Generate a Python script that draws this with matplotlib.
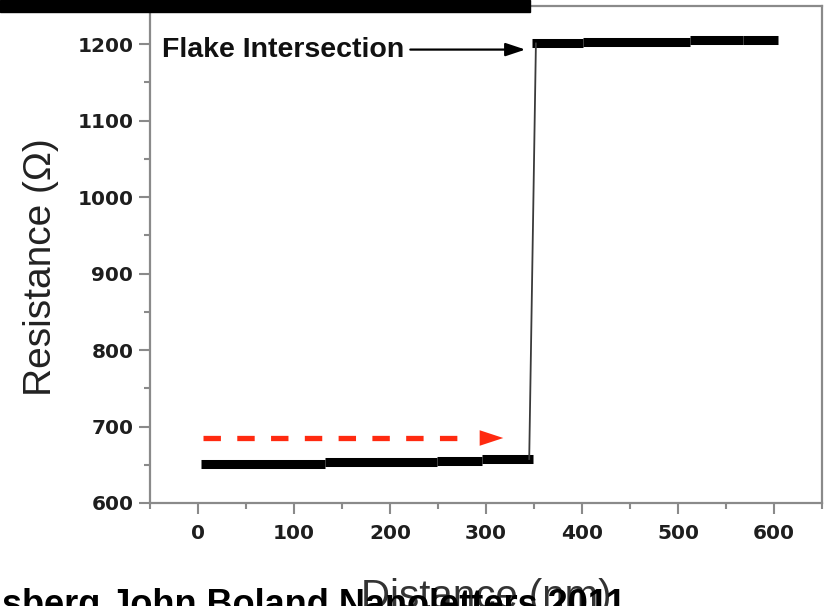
import matplotlib
matplotlib.use("Agg")
import matplotlib.pyplot as plt
from matplotlib.patches import Rectangle
from matplotlib.ticker import MultipleLocator

plt.rcParams['font.family'] = ['Liberation Sans', 'DejaVu Sans']

# Resistance profile along the line scan (step segments)
low_edges = [3, 132, 249, 296, 349]
low_values = [651.6, 653.8, 655.4, 657.5]
high_edges = [348, 401, 512, 568, 604]
high_values = [1201.0, 1202.6, 1205.0, 1206.0]
jump_x = [345, 352]
jump_y = [657.5, 1201.0]

# Scan direction arrow
scan_x = [5, 281]
scan_head_x = 308
scan_y = 685

# Annotation
note_text = "Flake Intersection"
note_xy = (-37, 1193)
note_target = (341, 1193)

x_ticks = [0, 100, 200, 300, 400, 500, 600]
y_ticks = [600, 700, 800, 900, 1000, 1100, 1200]

fig = plt.figure(figsize=(8.27, 6.06), dpi=100)
ax = fig.add_axes([150 / 827, 103 / 606, 672 / 827, 497 / 606])

spine_col = '#8a8a8a'
for s in ax.spines.values():
    s.set_color(spine_col)
    s.set_linewidth(1.6)

ax.set_xlim(-50, 650)
ax.set_ylim(600, 1250)
ax.set_xticks(x_ticks)
ax.set_yticks(y_ticks)
ax.xaxis.set_minor_locator(MultipleLocator(50))
ax.yaxis.set_minor_locator(MultipleLocator(50))
ax.tick_params(which='both', direction='out', color=spine_col, width=1.5)
ax.tick_params(which='major', length=8)
ax.tick_params(which='minor', length=4)
ax.tick_params(axis='x', which='major', pad=7)
ax.tick_params(axis='y', which='major', pad=4)
for lab in ax.get_xticklabels() + ax.get_yticklabels():
    lab.set_fontfamily('DejaVu Sans')
    lab.set_fontsize(14.5)
    lab.set_fontweight('bold')
    lab.set_color('#1e1e1e')

# Data
ax.hlines(low_values, low_edges[:-1], low_edges[1:], colors='black', linewidth=6.5)
ax.hlines(high_values, high_edges[:-1], high_edges[1:], colors='black', linewidth=6.5)
ax.plot(jump_x, jump_y, color='#3a3a3a', linewidth=1.3)

red = '#ff2a10'
ax.plot(scan_x, [scan_y, scan_y], color=red, linewidth=3.8,
        linestyle=(0, (3.3, 3.1)), dash_capstyle='butt')
ax.annotate('', xy=(scan_head_x + 10, scan_y), xytext=(scan_head_x - 8, scan_y),
            arrowprops=dict(arrowstyle='-|>,head_length=0.85,head_width=0.28',
                            color=red, lw=0, shrinkA=0, shrinkB=0,
                            mutation_scale=20))

ax.annotate(note_text, xy=note_target, xytext=note_xy,
            fontsize=20.5, fontweight='bold', color='#111111',
            ha='left', va='center',
            arrowprops=dict(arrowstyle='-|>,head_length=0.6,head_width=0.2',
                            color='black', lw=1.6, shrinkA=2, shrinkB=0,
                            mutation_scale=20))

ax.set_xlabel("Distance (nm)", fontsize=29, color='#333333', labelpad=25)
fig.text(41 / 827, 1 - 267 / 606, "Resistance (\u03a9)", rotation=90,
         ha='center', va='center', fontsize=28, color='#222222')

# Citation strip and header bar
fig.text(2 / 827, -9 / 606, "sberg John Boland Nanoletters 2011",
         ha='left', va='baseline', fontsize=26, fontweight='bold',
         color='black', zorder=20)
fig.patches.append(Rectangle((0, 1 - 12 / 606), 530 / 827, 12 / 606,
                             transform=fig.transFigure, color='black',
                             zorder=10))

fig.savefig("out.png", dpi=100)
